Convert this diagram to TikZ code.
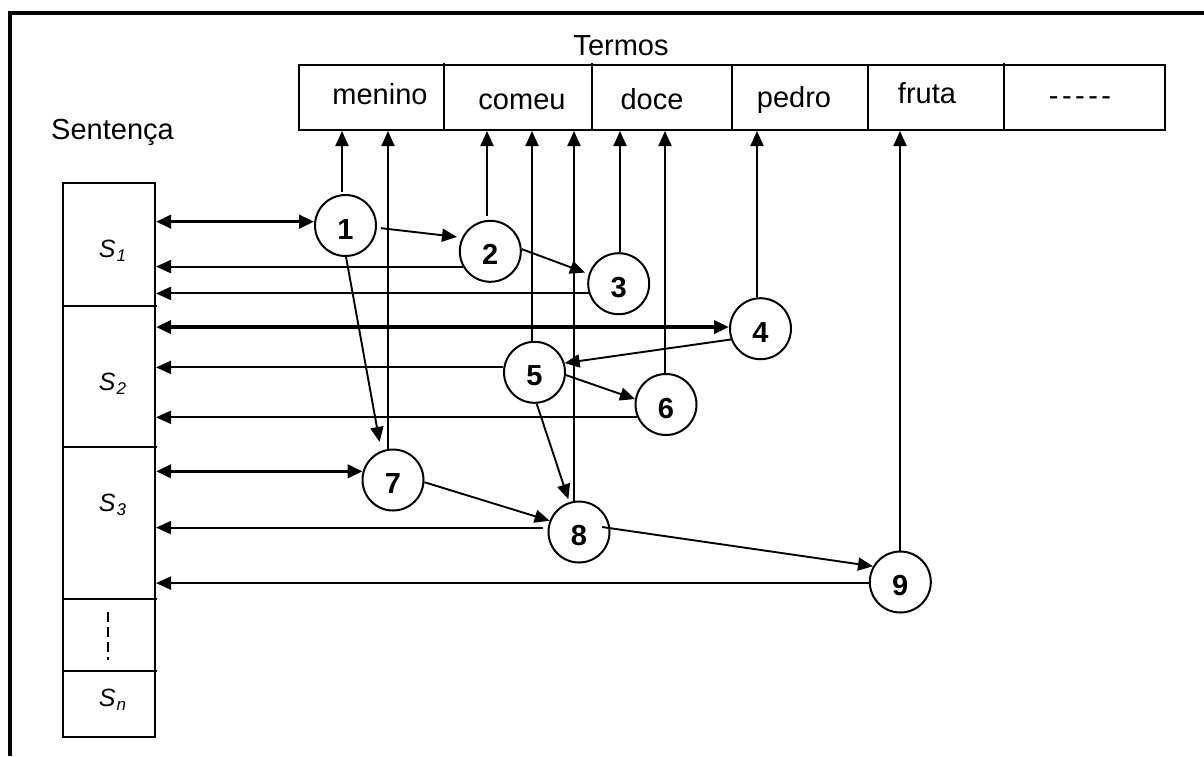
\documentclass[tikz,border=0pt]{standalone}
\usepackage{fontspec}
\setmainfont{Liberation Sans}
\usetikzlibrary{arrows.meta,calc}
\begin{document}
\begin{tikzpicture}[x=1pt,y=-1pt,
  >={Triangle[length=15pt,width=13pt]},
  every node/.style={font=\fontsize{29}{34}\selectfont},
  num/.style={circle,draw,line width=2pt,minimum size=61pt,inner sep=0pt,
    text height=30pt,text depth=3pt,font=\fontsize{29}{34}\selectfont\bfseries},
  box/.style={draw,line width=2pt,rectangle,inner sep=0pt},
  rule/.style={line width=2pt},
  thinarr/.style={line width=1.9pt,->},
  boldarr/.style={line width=3.6pt,<->},
  slab/.style={anchor=base,font=\fontsize{25}{30}\selectfont\itshape},
]
\useasboundingbox (0,0) rectangle (1204,756);

% outer frame (top and left edges)
\draw[line width=4pt,line join=miter] (10.3,756) -- (10.3,13) -- (1204,13);

% term table
\node[anchor=base] (termos) at (621,55) {Termos};
\node[box,minimum width=866pt,minimum height=65pt] (terms) at (732,97.5) {};
\foreach \xx in {444,592,1004} \draw[rule] (\xx,62.5) -- (\xx,130);
\foreach \xx in {732,868} \draw[rule] (\xx,65) -- (\xx,130);
\node[anchor=base] (w1) at (380,104) {menino};
\node[anchor=base] (w2) at (522,109) {comeu};
\node[anchor=base] (w3) at (652,109) {doce};
\node[anchor=base] (w4) at (794,107) {pedro};
\node[anchor=base] (w5) at (927,103.5) {fruta};
\node (w6) at (1080,101.5) {-\kern3.5pt-\kern3.5pt-\kern3.5pt-\kern3.5pt-};

% sentence column
\node[anchor=base] (sent) at (112.5,139) {Senten\c{c}a};
\node[box,minimum width=92pt,minimum height=554pt] (col) at (109,460) {};
\foreach \yy in {306,447,599,671} \draw[rule] (64,\yy) -- (157,\yy);
\draw[rule,dash pattern=on 10pt off 5pt] (108,612) -- (108,660);
\node[slab] (s1) at (112.5,257) {S\kern1pt\raisebox{-4pt}{\fontsize{17}{17}\selectfont 1}};
\node[slab] (s2) at (112.5,390) {S\kern1pt\raisebox{-4pt}{\fontsize{17}{17}\selectfont 2}};
\node[slab] (s3) at (112.5,511.5) {S\kern1pt\raisebox{-4pt}{\fontsize{17}{17}\selectfont 3}};
\node[slab] (sn) at (112.5,706.5) {S\kern1pt\raisebox{-4pt}{\fontsize{17}{17}\selectfont n}};

% occurrence nodes
\node[num] (c1) at (345.5,225.5) {1};
\node[num] (c2) at (490.3,251.3) {2};
\node[num] (c3) at (618.7,283.7) {3};
\node[num] (c4) at (760.5,328.7) {4};
\node[num] (c5) at (534.5,372.3) {5};
\node[num] (c6) at (666,404.5) {6};
\node[num] (c7) at (393,480) {7};
\node[num] (c8) at (579,532) {8};
\node[num] (c9) at (900.3,582) {9};

% links up to the terms
\coordinate (u1) at (342,131);
\coordinate (u7) at (388,131);
\coordinate (u2) at (487,131);
\coordinate (u5) at (532,131);
\coordinate (u8) at (574,131);
\coordinate (u3) at (620,131);
\coordinate (u6) at (665,131);
\coordinate (u4) at (757,131);
\coordinate (u9) at (900,131);
\draw[thinarr,shorten <=2pt] (c1.north -| u1) -- (u1);
\draw[thinarr] (c7.north -| u7) -- (u7);
\draw[thinarr,shorten <=4pt] (c2.north -| u2) -- (u2);
\draw[thinarr] (c5.north -| u5) -- (u5);
\draw[thinarr] (c8.north -| u8) -- (u8);
\draw[thinarr] (c3.north -| u3) -- (u3);
\draw[thinarr] (c6.north -| u6) -- (u6);
\draw[thinarr] (c4.north -| u4) -- (u4);
\draw[thinarr] (c9.north -| u9) -- (u9);

% links back to the sentences
\draw[boldarr] (c1.173 -| col.east) -- (c1.173);
\draw[boldarr] (c4.177 -| col.east) -- (c4.177);
\draw[boldarr] (c7.164 -| col.east) -- (c7.164);
\draw[thinarr] (c2.209) -- (c2.209 -| col.east);
\draw[thinarr] (c3.198) -- (c3.198 -| col.east);
\draw[thinarr] (c5.171) -- (c5.171 -| col.east);
\draw[thinarr] (c6.204) -- (c6.204 -| col.east);
\draw[thinarr,shorten <=5pt] (c8.172) -- (c8.172 -| col.east);
\draw[thinarr] (c9.182) -- (c9.182 -| col.east);

% links between occurrences
\coordinate (c8out) at ($(c8.center)+(23,-5)$);
\draw[thinarr,shorten <=4pt,shorten >=5pt] (c1.-4) -- (c2.154);
\draw[thinarr,shorten >=4pt] (c2.4) -- (c3.162);
\draw[thinarr,shorten >=9pt] (c1.-89) -- (c7.112);
\draw[thinarr] (c4.200) -- (c5.17);
\draw[thinarr] (c5.-5) -- (c6.170);
\draw[thinarr,shorten >=3pt] (c5.-86) -- (c8.108);
\draw[thinarr] (c7.-4) -- (c8.159);
\draw[thinarr] (c8out) -- (c9.150);
\end{tikzpicture}
\end{document}
